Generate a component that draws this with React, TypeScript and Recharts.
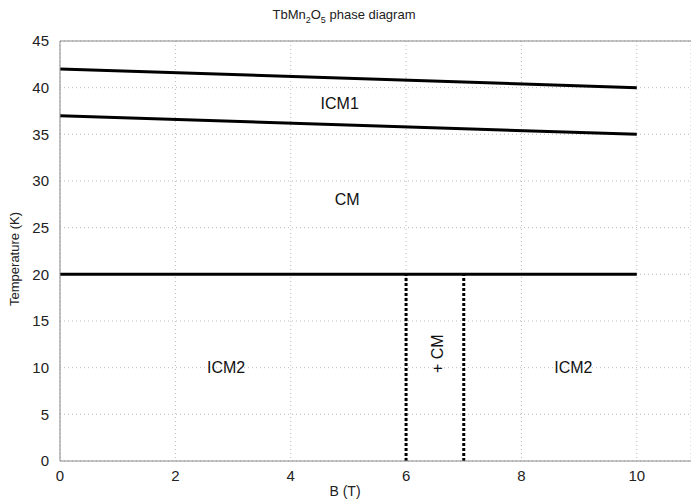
import { ComposedChart, Line, XAxis, YAxis, CartesianGrid, ReferenceDot, ReferenceLine, Customized } from 'recharts'

const FIELD_ENDS = [0, 10]
const UPPER_T = [42, 40]
const LOWER_T = [37, 35]
const CM_T = [20, 20]
const MIX_B = [6, 7]
const MIX_T = [0, 20]

const X_TICKS = [0, 2, 4, 6, 8, 10]
const Y_TICKS = [0, 5, 10, 15, 20, 25, 30, 35, 40, 45]

const REGION_LABELS = [
  { text: 'ICM1', b: 4.85, t: 38.3, angle: 0 },
  { text: 'CM', b: 4.98, t: 28, angle: 0 },
  { text: 'ICM2', b: 2.88, t: 10, angle: 0 },
  { text: 'ICM2', b: 8.9, t: 10, angle: 0 },
  { text: '+ CM', b: 6.55, t: 11.5, angle: -90 },
]

const FONT = '"Liberation Sans", Arial, sans-serif'

const toPoints = (xs: number[], ys: number[]) => xs.map((b, i) => ({ b, t: ys[i] }))

const upper = toPoints(FIELD_ENDS, UPPER_T)
const lower = toPoints(FIELD_ENDS, LOWER_T)
const cm = toPoints(FIELD_ENDS, CM_T)
const mixLeft = toPoints([MIX_B[0], MIX_B[0]], MIX_T)
const mixRight = toPoints([MIX_B[1], MIX_B[1]], MIX_T)

const Title = () => (
  <text x={344} y={19} textAnchor="middle" fontFamily={FONT} fontSize={13} fill="#222">
    TbMn
    <tspan fontSize={9} dy={4}>2</tspan>
    <tspan dy={-4}>O</tspan>
    <tspan fontSize={9} dy={4}>5</tspan>
    <tspan dy={-4}> phase diagram</tspan>
  </text>
)

const XLabel = () => (
  <text x={345} y={496} textAnchor="middle" fontFamily={FONT} fontSize={14} fill="#222">
    B (T)
  </text>
)

const YLabel = () => (
  <text
    transform="translate(19,259) rotate(-90)"
    textAnchor="middle"
    fontFamily={FONT}
    fontSize={13}
    fill="#222"
  >
    Temperature (K)
  </text>
)

const App = () => {
  const tick = { fontFamily: FONT, fontSize: 15, fill: '#222' }
  return (
    <div style={{ position: 'absolute', left: 0, top: 0, width: 691, height: 502, overflow: 'hidden', background: '#fff' }}>
      <ComposedChart width={691} height={502} margin={{ top: 41, right: 0, bottom: 0, left: 0 }}>
        <CartesianGrid stroke="#bbb" strokeDasharray="1 3" />
        <XAxis
          dataKey="b"
          type="number"
          domain={[0, 10.94]}
          ticks={X_TICKS}
          allowDataOverflow
          height={41}
          stroke="#888"
          tickLine={false}
          tick={tick}
          tickMargin={3}
          label={{ content: XLabel }}
        />
        <YAxis
          dataKey="t"
          type="number"
          domain={[0, 45]}
          ticks={Y_TICKS}
          width={60}
          stroke="#888"
          tickLine={false}
          tick={tick}
          tickMargin={5}
          label={{ content: YLabel }}
        />
        <ReferenceLine y={45} stroke="#888" />
        <Line data={upper} dataKey="t" stroke="#000" strokeWidth={3} dot={false} isAnimationActive={false} />
        <Line data={lower} dataKey="t" stroke="#000" strokeWidth={3} dot={false} isAnimationActive={false} />
        <Line data={cm} dataKey="t" stroke="#000" strokeWidth={3} dot={false} isAnimationActive={false} />
        <Line data={mixLeft} dataKey="t" stroke="#000" strokeWidth={3} strokeDasharray="3 2" dot={false} isAnimationActive={false} />
        <Line data={mixRight} dataKey="t" stroke="#000" strokeWidth={3} strokeDasharray="3 2" dot={false} isAnimationActive={false} />
        {REGION_LABELS.map((l, i) => (
          <ReferenceDot
            key={i}
            x={l.b}
            y={l.t}
            r={0}
            fill="none"
            stroke="none"
            label={{ value: l.text, position: 'center', angle: l.angle, style: { fontFamily: FONT, fontSize: 16, fill: '#111' } }}
          />
        ))}
        <Customized component={Title} />
      </ComposedChart>
    </div>
  )
}

export default App
